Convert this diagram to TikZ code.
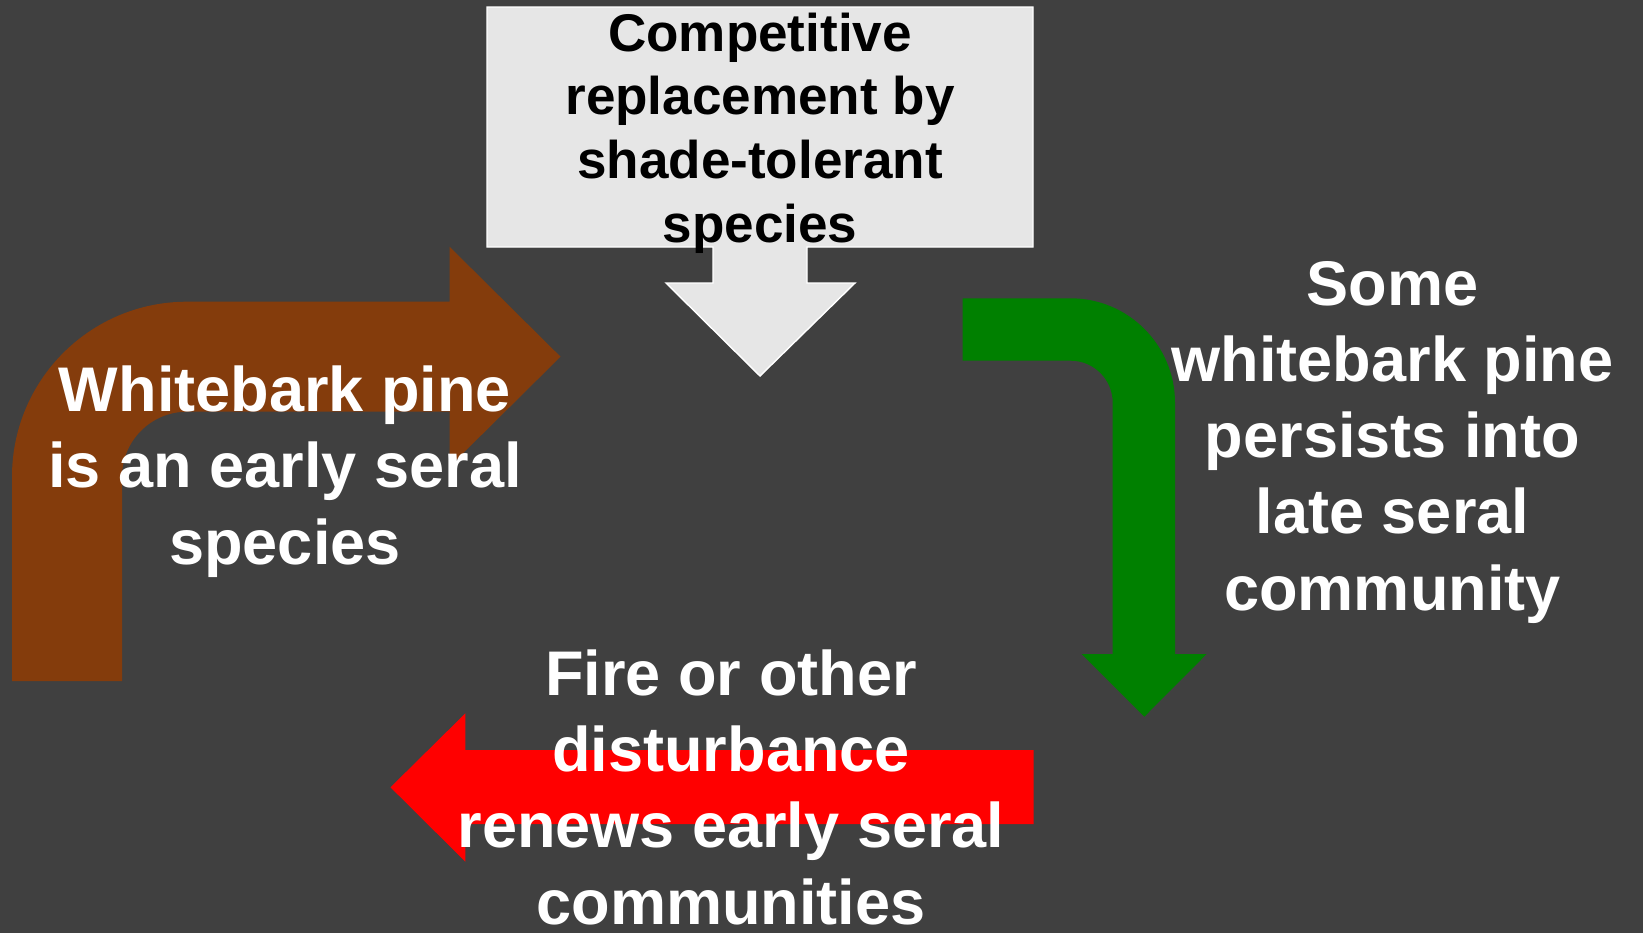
\documentclass[tikz,border=0pt]{standalone}
\usepackage{fontspec}
\setmainfont{Liberation Sans}
\usetikzlibrary{positioning}
\definecolor{slidebg}{HTML}{404040}
\definecolor{boxgray}{HTML}{E6E6E6}
\definecolor{barkbrown}{HTML}{843C0C}
\definecolor{pinegreen}{HTML}{008000}
\definecolor{firered}{HTML}{FF0000}
\tikzstyle{wtext}=[text=white, font=\bfseries\fontsize{35.9}{43.3}\selectfont,
                   align=center, inner sep=0pt, anchor=base]
\tikzstyle{ktext}=[text=black, font=\bfseries\fontsize{30.2}{36.2}\selectfont,
                   align=center, inner sep=0pt, anchor=base]
\tikzstyle{callout}=[fill=boxgray, draw=white, line width=0.8pt]

\begin{document}
\begin{tikzpicture}[x=0.02cm, y=-0.02cm]

\fill[slidebg] (0,0) rectangle (1643,933);
\useasboundingbox (0,0) rectangle (1643,933);

% box with down arrow
\draw[callout] (487,7) -- (1033,7) -- (1033,247) -- (807,247) -- (807,283)
  -- (855,283) -- (760,376) -- (666,283) -- (713,283) -- (713,247)
  -- (487,247) -- cycle;

% brown bent arrow
\fill[barkbrown] (12,681) -- (12,476.7)
  .. controls (12,380) and (90.3,301.7) .. (187,301.7)
  -- (449.5,301.7) -- (449.5,246.7) -- (560.5,356.7) -- (449.5,466.7)
  -- (449.5,411.7) -- (187,411.7)
  .. controls (151.1,411.7) and (122,440.8) .. (122,476.7)
  -- (122,681) -- cycle;

% green bent arrow
\fill[pinegreen] (962.7,298.3) -- (1070.5,298.3)
  .. controls (1128.2,298.3) and (1175,345.1) .. (1175,402.8)
  -- (1175,654) -- (1206.7,654) -- (1144.3,716.7) -- (1081.7,654)
  -- (1112.7,654) -- (1112.7,402.7)
  .. controls (1112.7,379.5) and (1093.9,360.7) .. (1070.7,360.7)
  -- (962.7,360.7) -- cycle;

% red arrow
\fill[firered] (1033.6,750) -- (465.4,750) -- (465.4,713.3) -- (390.5,787.3)
  -- (465.4,861.7) -- (465.4,824) -- (1033.6,824) -- cycle;

% texts (base = last line)
\node (replace) [ktext] at (760,242) {Competitive\\replacement by\\shade-tolerant\\species};
\node (early) [wtext] at (285,564) {Whitebark pine\\is an early seral\\species};
\node (persist) [wtext] at (1392.5,610) {Some\\whitebark pine\\persists into\\late seral\\community};
\node (fire) [wtext] at (731,924) {Fire or other\\disturbance\\renews early seral\\communities};

\end{tikzpicture}
\end{document}
